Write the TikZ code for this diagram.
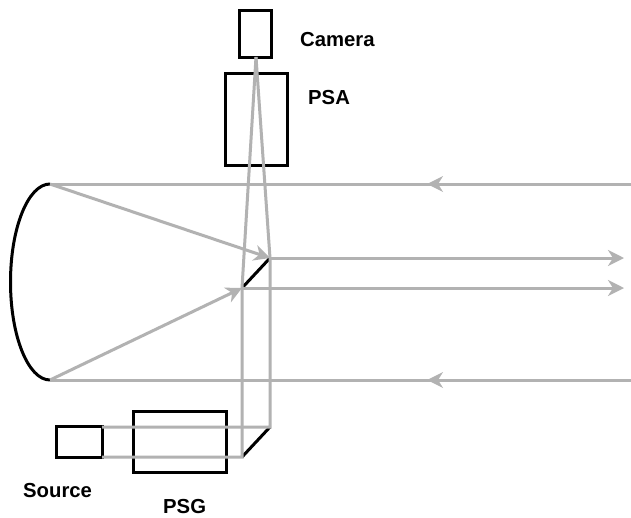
\documentclass[tikz,border=0pt]{standalone}
\usepackage{fontspec}
\setmainfont{Liberation Sans}
\usetikzlibrary{arrows.meta,decorations.markings}
\definecolor{beam}{RGB}{178,178,178}
\tikzset{
  boxnode/.style={draw=black,line width=3pt,fill=none,inner sep=0pt,outer sep=0pt,anchor=north west},
  ray/.style={draw=beam,line width=3pt},
  rayarrow/.style={ray,-{Stealth[length=16pt,width=16pt,inset=5pt]}},
  midleft/.style={ray,postaction={decorate},decoration={markings,mark=at position #1 with {\arrow[beam,line width=0pt]{Stealth[length=16pt,width=16pt,inset=5pt]}}}},
  blackline/.style={draw=black,line width=3pt},
  lab/.style={font=\bfseries\fontsize{20.3}{22}\selectfont,inner sep=0pt,text=black}
}
\begin{document}
\begin{tikzpicture}[x=1pt,y=-1pt]
\useasboundingbox (0,0) rectangle (631,517);
\fill[white] (0,0) rectangle (631,517);
% boxes
\node[boxnode,minimum width=31.5pt,minimum height=47pt] (camera) at (239.5,10) {};
\node[boxnode,minimum width=62pt,minimum height=92pt] (psa) at (225.5,73) {};
\node[boxnode,minimum width=46pt,minimum height=31pt] (source) at (56,426.5) {};
\node[boxnode,minimum width=92.5pt,minimum height=61pt] (psg) at (133.5,411) {};
% optical points
\coordinate (camin) at (256,57);
\coordinate (m1a) at (242,288);
\coordinate (m1b) at (270,258);
\coordinate (m2a) at (242,457);
\coordinate (m2b) at (270,427);
\coordinate (ptop) at (50,184);
\coordinate (pbot) at (50,380);
\coordinate (intop) at (631,184);
\coordinate (inbot) at (631,380);
\coordinate (out1) at (624,258);
\coordinate (out2) at (624,288);
\coordinate (srca) at (102,427);
\coordinate (srcb) at (102,457);
% optics in black
\draw[blackline] (m1a) -- (m1b);
\draw[blackline] (m2a) -- (m2b);
\draw[blackline] (ptop) arc[start angle=90,end angle=270,x radius=39.5pt,y radius=98pt];
% rays
\draw[midleft=0.351] (intop) -- (ptop);
\draw[midleft=0.351] (inbot) -- (pbot);
\draw[rayarrow] (ptop) -- (m1b);
\draw[rayarrow] (pbot) -- (m1a);
\draw[rayarrow] (m1b) -- (out1);
\draw[rayarrow] (m1a) -- (out2);
\draw[ray] (srca) -- (m2b) -- (m1b) -- (camin);
\draw[ray] (srcb) -- (m2a) -- (m1a) -- (camin);
% labels
\node[lab,anchor=base west] (lcam) at (300,46.5) {Camera};
\node[lab,anchor=base west] (lpsa) at (308,104.5) {PSA};
\node[lab,anchor=base west] (lsrc) at (23,497) {Source};
\node[lab,anchor=base west] (lpsg) at (163,513) {PSG};
\end{tikzpicture}
\end{document}
